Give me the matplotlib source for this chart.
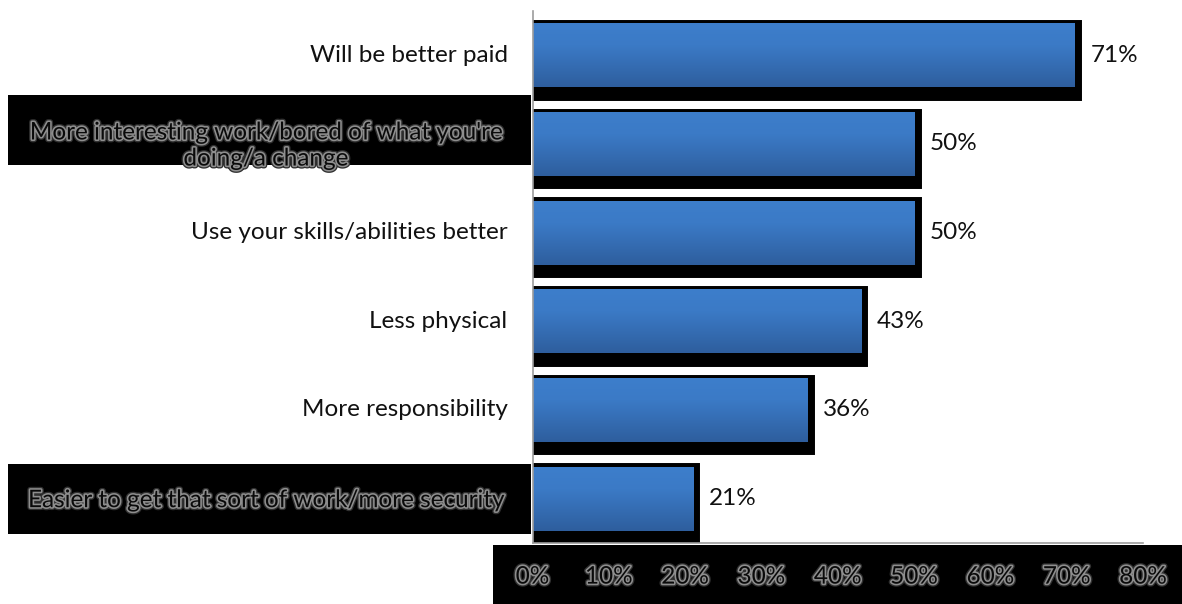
import numpy as np
import matplotlib
matplotlib.use("Agg")
import matplotlib.pyplot as plt
import matplotlib.patheffects as pe
import matplotlib.transforms as mtransforms
from matplotlib.patches import Rectangle
from matplotlib.colors import LinearSegmentedColormap

plt.rcParams['font.family'] = ['Lato', 'DejaVu Sans']

categories = [
    "Will be better paid",
    "More interesting work/bored of what you're\ndoing/a change",
    "Use your skills/abilities better",
    "Less physical",
    "More responsibility",
    "Easier to get that sort of work/more security",
]
values = [71, 50, 50, 43, 36, 21]
highlighted = [False, True, False, False, False, True]
tick_values = [0, 10, 20, 30, 40, 50, 60, 70, 80]
tick_labels = [f"{t}%" for t in tick_values]

W, H = 1182, 604
DPI = 100
FS = 17.5

fig = plt.figure(figsize=(W / DPI, H / DPI), dpi=DPI)
fig.patch.set_facecolor("white")

ax_left, ax_right, ax_top, ax_bottom = 532.5, 1143, 11, 543
ax = fig.add_axes([ax_left / W, (H - ax_bottom) / H,
                   (ax_right - ax_left) / W, (ax_bottom - ax_top) / H])
ax.set_xlim(0, 80)
ax.set_ylim(len(values) - 0.5, -0.5)
ax.set_facecolor("none")

y = np.arange(len(values))
bar_h = 0.72

# black drop-shadow frame behind each bar
shadow = [pe.Stroke(linewidth=12.2, foreground="black", offset=(-1.1, -3.2),
                    joinstyle="miter"), pe.Normal()]
bars = ax.barh(y, values, height=bar_h, color="#3b7bc8", edgecolor="none",
               zorder=1)
for b in bars:
    b.set_path_effects(shadow)

# vertical blue gradient inside each bar
cmap = LinearSegmentedColormap.from_list(
    "bluegrad", [(0.0, "#3d7ecb"), (0.35, "#3b7ac6"), (1.0, "#2e5e9d")])
grad = np.linspace(0, 1, 256).reshape(-1, 1)
for b in bars:
    x0, y0 = b.get_x(), b.get_y()
    w, h = b.get_width(), b.get_height()
    im = ax.imshow(grad, cmap=cmap, aspect="auto", interpolation="bicubic",
                   extent=(x0, x0 + w, y0 + h, y0), zorder=1.5)
    im.set_clip_path(b)
ax.set_xlim(0, 80)
ax.set_ylim(len(values) - 0.5, -0.5)

for s in ("top", "right"):
    ax.spines[s].set_visible(False)
for s in ("left", "bottom"):
    ax.spines[s].set_color("#9c9c9c")
    ax.spines[s].set_linewidth(1.2)
    ax.spines[s].set_zorder(3)

glow = [pe.Stroke(linewidth=4.2, foreground="#303030"),
        pe.Stroke(linewidth=2.3, foreground="#8e8e8e"), pe.Normal()]

ax.set_yticks([])
ax.set_xticks(tick_values)
ax.set_xticklabels(tick_labels, fontsize=FS, color="#0a0a0a")
ax.tick_params(axis="x", length=0, pad=17)
for lbl in ax.get_xticklabels():
    lbl.set_path_effects(glow)

# black band under the x tick labels
fig.add_artist(Rectangle((493 / W, 0), (W - 493) / W, (H - 545) / H,
                         transform=fig.transFigure, facecolor="black",
                         edgecolor="none", zorder=-1))

# value labels
for yi, v in zip(y, values):
    ax.annotate(f"{v}%", xy=(v, yi), xytext=(16, 0),
                textcoords="offset pixels", ha="left", va="center",
                fontsize=FS, color="#111111")

# category labels
box_tr = mtransforms.blended_transform_factory(fig.transFigure, ax.transData)
px_per_unit = (ax_bottom - ax_top) / len(values)
for yi, cat, hl in zip(y, categories, highlighted):
    if hl:
        shift = -14 / px_per_unit if "\n" in cat else 0
        bh = 70 / px_per_unit
        fig.add_artist(Rectangle((8 / W, yi + shift - bh / 2), (531 - 8) / W, bh,
                                 transform=box_tr, facecolor="black",
                                 edgecolor="none", zorder=-1))
        ax.text(266 / W, yi + 2 / px_per_unit, cat, transform=box_tr,
                ha="center", va="center", multialignment="center",
                fontsize=FS, color="#0a0a0a", linespacing=1.3,
                path_effects=glow, clip_on=False)
    else:
        ax.annotate(cat, xy=(0, yi), xytext=(-25, 0),
                    textcoords="offset pixels", ha="right", va="center",
                    fontsize=FS, color="#111111", annotation_clip=False)

fig.savefig("out.png", dpi=DPI, facecolor="white")
